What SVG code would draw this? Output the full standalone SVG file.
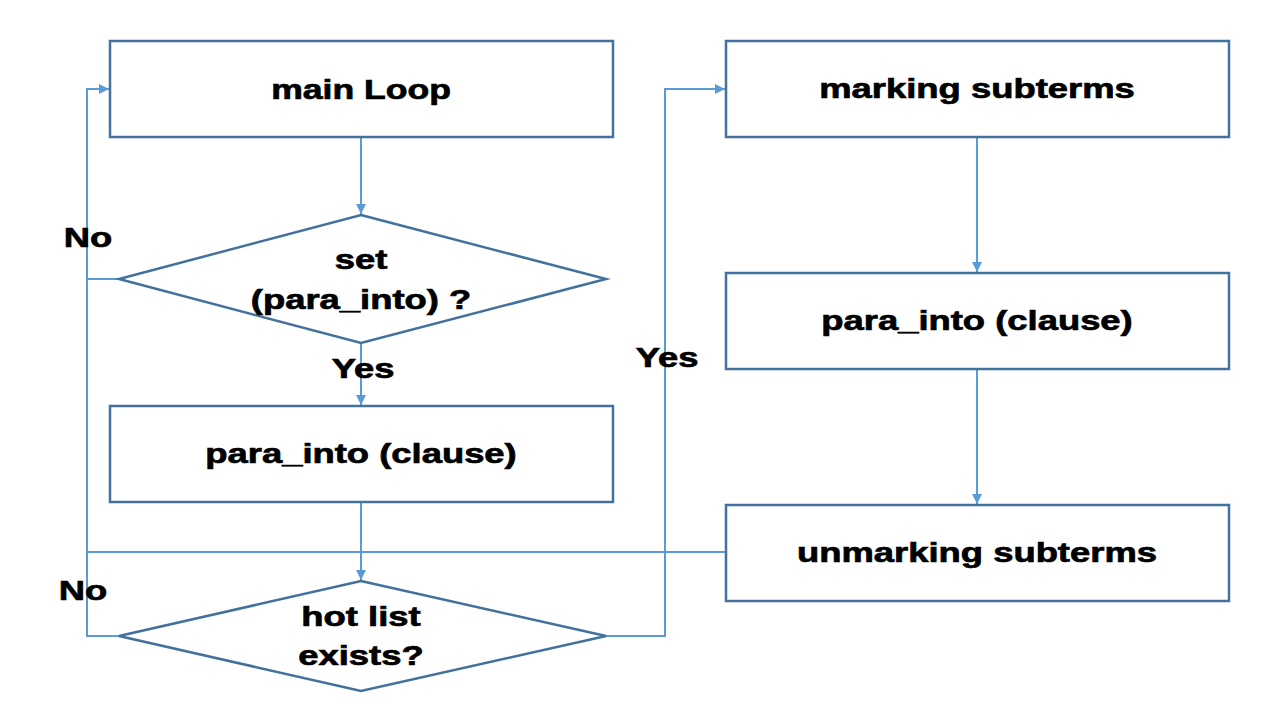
<svg xmlns="http://www.w3.org/2000/svg" width="1280" height="720" viewBox="0 0 1280 720">
<style>
.n{fill:#fff;stroke:#41719C;stroke-width:2.5}
.t{font-family:"Liberation Sans",Arial,sans-serif;font-weight:bold;font-size:28px;fill:#000;stroke:#000;stroke-width:0.7;text-anchor:middle;dominant-baseline:central}
.c{fill:none;stroke:#5B9BD5;stroke-width:2}
</style>
<defs>
<marker id="a" viewBox="0 0 10 10" refX="10" refY="5" markerWidth="5" markerHeight="5" orient="auto" markerUnits="strokeWidth"><path d="M0,0L10,5L0,10z" fill="#5B9BD5"/></marker>
</defs>
<rect width="1280" height="720" fill="#fff"/>
<g id="connectors">
<path class="c" d="M361,137V214" marker-end="url(#a)"/>
<path class="c" d="M361,343V405" marker-end="url(#a)"/>
<path class="c" d="M361,502V580" marker-end="url(#a)"/>
<path class="c" d="M119,279H87V89H109" marker-end="url(#a)"/>
<path class="c" d="M119,636H87V279"/>
<path class="c" d="M726,552H87"/>
<path class="c" d="M606,636H665V89H725" marker-end="url(#a)"/>
<path class="c" d="M977,137V272" marker-end="url(#a)"/>
<path class="c" d="M977,369V504" marker-end="url(#a)"/>
<text class="t" transform="translate(88,238) scale(1.3,1)">No</text>
<text class="t" transform="translate(83,591) scale(1.3,1)">No</text>
<text class="t" transform="translate(363,369) scale(1.3,1)">Yes</text>
<text class="t" transform="translate(667,358) scale(1.3,1)">Yes</text>
</g>
<g id="mainloop"><rect class="n" x="110" y="41" width="503" height="96"/><text class="t" transform="translate(361,89) scale(1.27,1)">main Loop</text></g>
<g id="set"><polygon class="n" points="361,215 606,279 361,343 119,279"/><text class="t" transform="translate(361,260) scale(1.3,1)">set</text><text class="t" transform="translate(361,300) scale(1.3,1)">(para_into) ?</text></g>
<g id="para1"><rect class="n" x="110" y="406" width="503" height="96"/><text class="t" transform="translate(361,454) scale(1.3,1)">para_into (clause)</text></g>
<g id="hot"><polygon class="n" points="361,581 606,636 361,691 119,636"/><text class="t" transform="translate(361,617) scale(1.3,1)">hot list</text><text class="t" transform="translate(361,656) scale(1.3,1)">exists?</text></g>
<g id="mark"><rect class="n" x="726" y="41" width="503" height="96"/><text class="t" transform="translate(977,89) scale(1.3,1)">marking subterms</text></g>
<g id="para2"><rect class="n" x="726" y="273" width="503" height="96"/><text class="t" transform="translate(977,321) scale(1.3,1)">para_into (clause)</text></g>
<g id="unmark"><rect class="n" x="726" y="505" width="503" height="96"/><text class="t" transform="translate(977,553) scale(1.3,1)">unmarking subterms</text></g>
</svg>
